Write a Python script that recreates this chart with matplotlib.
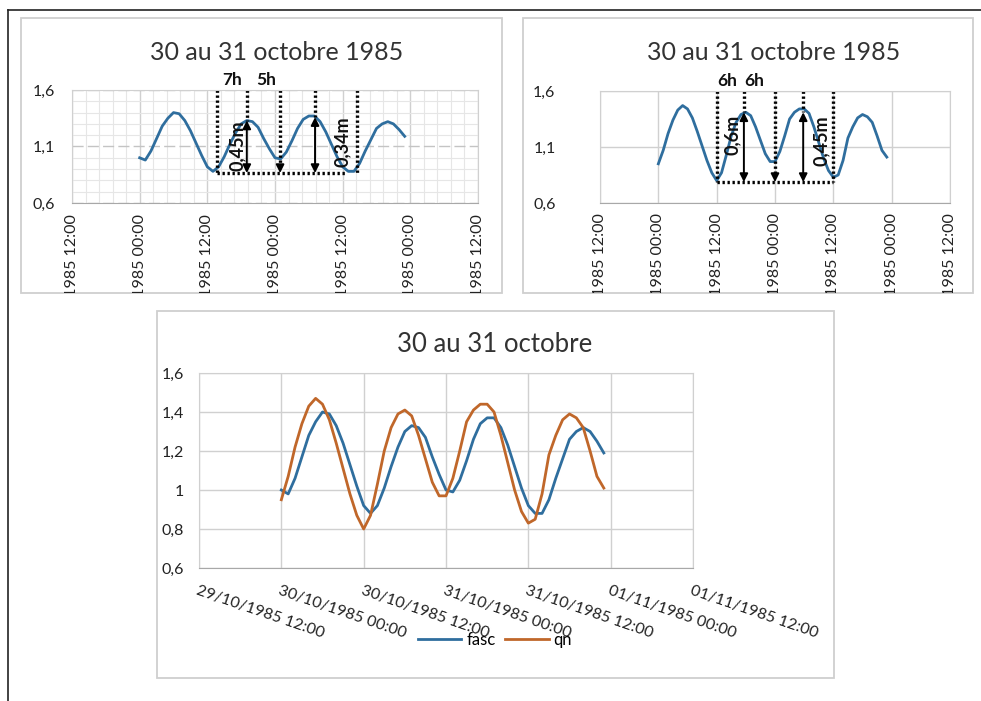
import matplotlib

matplotlib.use("Agg")
import matplotlib.pyplot as plt
import matplotlib.dates as mdates
from matplotlib.patches import Rectangle
from matplotlib.lines import Line2D
from matplotlib.ticker import MultipleLocator
from matplotlib.transforms import Bbox, TransformedBbox
from datetime import datetime, timedelta

plt.rcParams["font.family"] = ["Lato", "DejaVu Sans"]

W, H = 981, 701
START = datetime(1985, 10, 30, 0, 0)

# hourly values from 30/10/1985 00:00
hours = list(range(48))
fasc = [1.00, 0.98, 1.06, 1.17, 1.28, 1.35, 1.40, 1.39, 1.33, 1.24, 1.13, 1.02,
        0.92, 0.88, 0.92, 1.01, 1.12, 1.22, 1.30, 1.33, 1.32, 1.27, 1.17, 1.08,
        1.00, 0.99, 1.05, 1.15, 1.26, 1.34, 1.37, 1.37, 1.32, 1.23, 1.12, 1.01,
        0.92, 0.88, 0.88, 0.95, 1.06, 1.16, 1.26, 1.30, 1.32, 1.30, 1.25, 1.19]
qn = [0.95, 1.07, 1.22, 1.34, 1.43, 1.47, 1.44, 1.36, 1.24, 1.11, 0.98, 0.87,
      0.80, 0.87, 1.03, 1.20, 1.32, 1.39, 1.41, 1.38, 1.28, 1.16, 1.04, 0.97,
      0.97, 1.06, 1.20, 1.35, 1.41, 1.44, 1.44, 1.40, 1.28, 1.14, 1.00, 0.89,
      0.83, 0.85, 0.98, 1.18, 1.28, 1.36, 1.39, 1.37, 1.32, 1.20, 1.07, 1.01]

x_ticks = [datetime(1985, 10, 29, 12) + timedelta(hours=12 * i) for i in range(7)]
x_labels = [d.strftime("%d/%m/%Y %H:%M") for d in x_ticks]
# the top panels only show the end of each label, the rest is cut by the box
x_labels_cut = [s[-11:] for s in x_labels]
y_ticks_small = [0.6, 1.1, 1.6]
y_labels_small = ["0,6", "1,1", "1,6"]
y_ticks_big = [0.6, 0.8, 1.0, 1.2, 1.4, 1.6]
y_labels_big = ["0,6", "0,8", "1", "1,2", "1,4", "1,6"]

# annotations on the two top panels (hours after 30/10 00:00)
marks_fasc = [13.7, 19.0, 24.9, 31.1, 38.5]
marks_qn = [12.0, 17.6, 24.0, 29.8, 35.9]
hour_labels_fasc = [("7h", 14.6), ("5h", 20.6)]
hour_labels_qn = [("6h", 12.2), ("6h", 17.7)]
amp_labels_fasc = [("0,45m", 17.3, 1.11), ("0,34m", 36.0, 1.14)]
amp_labels_qn = [("0,6m", 15.3, 1.21), ("0,45m", 33.6, 1.16)]

BLUE = "#2f6e9e"
ORANGE = "#c0672a"
GRID = "#d0d0d0"


def t(h):
    return mdates.date2num(START + timedelta(hours=h))


def px_rect(x0, y0, x1, y1):
    return [x0 / W, 1 - y1 / H, (x1 - x0) / W, (y1 - y0) / H]


x_data = [t(h) for h in hours]

fig = plt.figure(figsize=(W / 100, H / 100), dpi=100)
fig.patch.set_facecolor("white")

# outer frame and panel boxes
fig.add_artist(Line2D([8 / W, 8 / W], [1 - 10 / H, 0], transform=fig.transFigure,
                      color="#222222", lw=1.2))
fig.add_artist(Line2D([8 / W, 1], [1 - 10 / H, 1 - 10 / H], transform=fig.transFigure,
                      color="#222222", lw=1.2))
boxes = [(21, 18, 502, 293), (523, 18, 973, 293), (157, 311, 834, 678)]
for x0, y0, x1, y1 in boxes:
    r = px_rect(x0, y0, x1, y1)
    fig.add_artist(Rectangle((r[0], r[1]), r[2], r[3], transform=fig.transFigure,
                             facecolor="none", edgecolor="#cfcfcf", lw=1.3, zorder=-1))


def style_axes(ax, yticks, ylabels, ypad, xpad):
    ax.set_xlim(t(-12), t(60))
    ax.set_ylim(0.6, 1.6)
    ax.set_xticks([mdates.date2num(d) for d in x_ticks])
    ax.set_yticks(yticks)
    ax.set_yticklabels(ylabels)
    ax.tick_params(length=0, labelsize=11.5, colors="#222222")
    ax.tick_params(axis="y", pad=ypad)
    ax.tick_params(axis="x", pad=xpad)
    for side in ("top", "left", "right"):
        ax.spines[side].set_color(GRID)
    ax.spines["bottom"].set_color("#a8a8a8")
    ax.set_axisbelow(True)


def annotate_panel(ax, marks, base, tops, hour_labels, amp_labels, base_end):
    dot = dict(color="black", lw=2.4, linestyle=(0, (0.7, 0.8)))
    arrow = dict(arrowstyle="<|-|>", color="black", lw=1.4, mutation_scale=12,
                 shrinkA=0, shrinkB=0)
    for i, h in enumerate(marks):
        x = t(h)
        if i in (1, 3):
            top = tops[i // 2]
            ax.plot([x, x], [1.6, top], **dot)
            ax.annotate("", xy=(x, top), xytext=(x, base), arrowprops=arrow)
        elif i == 2:
            ax.plot([x, x], [1.6, base + 0.05], **dot)
            ax.annotate("", xy=(x, base), xytext=(x, base + 0.07),
                        arrowprops=dict(arrowstyle="-|>", color="black", lw=1.4,
                                        mutation_scale=12, shrinkA=0, shrinkB=0))
        else:
            ax.plot([x, x], [1.6, base], **dot)
    ax.plot([t(marks[0]), t(base_end)], [base, base], **dot)
    for txt, h in hour_labels:
        ax.text(t(h), 1.615, txt, ha="left", va="bottom", fontsize=12.5,
                fontweight="bold", color="#111111", clip_on=False)
    for txt, h, v in amp_labels:
        ax.text(t(h), v, txt, rotation=90, ha="center", va="center", fontsize=13,
                fontweight="bold", color="#111111")


# panel 1: fasc with fine grid
ax1 = fig.add_axes(px_rect(72, 90, 478, 203))
style_axes(ax1, y_ticks_small, y_labels_small, 12, 8)
ax1.set_xticklabels(x_labels_cut, rotation=90, ha="center", va="top")
ax1.xaxis.set_minor_locator(MultipleLocator(0.1))
ax1.yaxis.set_minor_locator(MultipleLocator(0.1))
ax1.tick_params(which="minor", length=0)
ax1.grid(True, which="minor", color="#e6e6e6", lw=0.8)
ax1.grid(True, axis="x", which="major", color=GRID, lw=1)
ax1.grid(True, axis="y", which="major", color="#c4c4c4", lw=1, linestyle=(0, (8, 3)))
ax1.plot(x_data, fasc, color=BLUE, lw=2)
annotate_panel(ax1, marks_fasc, 0.865, [1.33, 1.36], hour_labels_fasc,
               amp_labels_fasc, 36.6)
fig.text(277 / W, 1 - 52 / H, "30 au 31 octobre 1985", ha="center", va="center",
         fontsize=18, color="#333333")

# panel 2: qn
ax2 = fig.add_axes(px_rect(600, 91, 950, 203))
style_axes(ax2, y_ticks_small, y_labels_small, 32, 7)
ax2.set_xticklabels(x_labels_cut, rotation=90, ha="center", va="top")
ax2.grid(True, color=GRID, lw=1)
ax2.plot(x_data, qn, color=BLUE, lw=2)
annotate_panel(ax2, marks_qn, 0.787, [1.41, 1.41], hour_labels_qn,
               amp_labels_qn, 35.9)
fig.text(774 / W, 1 - 52 / H, "30 au 31 octobre 1985", ha="center", va="center",
         fontsize=18, color="#333333")

# panel 3: both series
ax3 = fig.add_axes(px_rect(199, 373, 693, 568))
style_axes(ax3, y_ticks_big, y_labels_big, 11, 11)
ax3.set_xticklabels(x_labels, rotation=-19, ha="left", va="top",
                    rotation_mode="anchor")
ax3.grid(True, color=GRID, lw=1)
ax3.plot(x_data, fasc, color=BLUE, lw=2, label="fasc")
ax3.plot(x_data, qn, color=ORANGE, lw=2, label="qn")
fig.text(495 / W, 1 - 345 / H, "30 au 31 octobre", ha="center", va="center",
         fontsize=18.5, color="#333333")
fig.legend(loc="center", bbox_to_anchor=(495 / W, 1 - 640 / H), ncol=2,
           frameon=False, fontsize=12, handlelength=2.6, handletextpad=0.3,
           columnspacing=0.6)

# clip rotated tick labels of the top panels to their boxes
fig.canvas.draw()
for ax, (x0, y0, x1, y1) in zip((ax1, ax2), boxes[:2]):
    r = px_rect(x0, y0, x1, y1)
    clip = TransformedBbox(Bbox.from_bounds(*r), fig.transFigure)
    for lab in ax.get_xticklabels():
        lab.set_clip_box(clip)
        lab.set_clip_on(True)

fig.savefig("out.png", dpi=100, facecolor="white")
